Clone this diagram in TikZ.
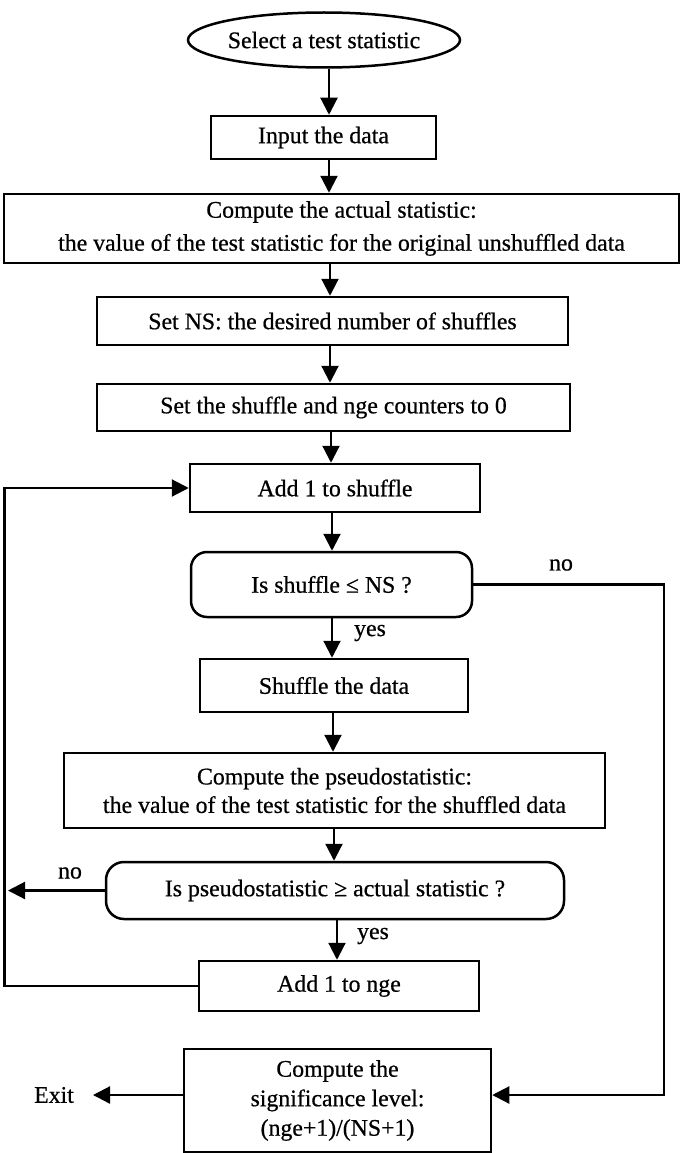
\documentclass[tikz,border=0pt]{standalone}
\usepackage{fontspec}
\setmainfont{Liberation Serif}[FakeBold=0.6]
\usetikzlibrary{arrows.meta,shapes.geometric}
\begin{document}
\begin{tikzpicture}[x=1pt,y=-1pt,
  every node/.style={font=\fontsize{23.8}{29.5}\selectfont},
  box/.style={draw,line width=2.5pt,rectangle,inner sep=0pt,align=center},
  dec/.style={box,rounded corners=16pt},
  arr/.style={line width=2.2pt,-{Triangle[length=17pt,width=17pt]}},
  lbl/.style={inner sep=0pt}]
\useasboundingbox (0,0) rectangle (681,1153);
\node[draw,line width=2.5pt,ellipse,minimum width=266pt,minimum height=55pt,inner sep=0pt] (sel) at (324,40) {Select a test statistic};
\node[box,minimum width=225pt,minimum height=43pt] (inp) at (323.5,137.5) {Input the data};
\node[box,minimum width=675pt,minimum height=69pt,font=\fontsize{23.8}{33}\selectfont] (act) at (341.5,228.5) {Compute the actual statistic:\\the value of the test statistic for the original unshuffled data};
\node[box,minimum width=471pt,minimum height=48pt] (ns) at (332.5,321) {Set NS: the desired number of shuffles};
\node[box,minimum width=473pt,minimum height=47pt] (cnt) at (333.5,407.5) {Set the shuffle and nge counters to 0};
\node[box,minimum width=290pt,minimum height=48pt] (ash) at (335,488) {Add 1 to shuffle};
\node[dec,minimum width=281pt,minimum height=65pt] (d1) at (331.5,584.5) {Is shuffle ≤ NS ?};
\node[box,minimum width=268pt,minimum height=53pt] (shd) at (334,685.5) {Shuffle the data};
\node[box,minimum width=541pt,minimum height=75pt,font=\fontsize{23.8}{28.5}\selectfont] (ps) at (334.5,790.5) {Compute the pseudostatistic:\\the value of the test statistic for the shuffled data};
\node[dec,minimum width=458pt,minimum height=57pt,rounded corners=18pt] (d2) at (335,890.5) {Is pseudostatistic ≥ actual statistic ?};
\node[box,minimum width=280pt,minimum height=50pt] (nge) at (339,986) {Add 1 to nge};
\node[box,minimum width=307pt,minimum height=103pt] (sig) at (337.5,1100.5) {Compute the\\significance level:\\(nge+1)/(NS+1)};
\node[lbl] (exit) at (54,1095) {Exit};
\node[lbl] (no1) at (561,565) {no};
\node[lbl] (yes1) at (370,633) {yes};
\node[lbl] (no2) at (70,873) {no};
\node[lbl] (yes2) at (373,936) {yes};
\coordinate (lx) at (4.5,0);
\coordinate (rx) at (664,0);
\coordinate (ltip) at (8,0);
\coordinate (exitpt) at (93,1095);
\draw[arr] (sel.south -| 329,0) -- (329,0 |- inp.north);
\draw[arr] (329,0 |- inp.south) -- (329,0 |- act.north);
\draw[arr] (330,0 |- act.south) -- (330,0 |- ns.north);
\draw[arr] (330,0 |- ns.south) -- (330,0 |- cnt.north);
\draw[arr] (331,0 |- cnt.south) -- (331,0 |- ash.north);
\draw[arr] (332,0 |- ash.south) -- (332,0 |- d1.north);
\draw[arr] (332,0 |- d1.south) -- (332,0 |- shd.north);
\draw[arr] (333,0 |- shd.south) -- (333,0 |- ps.north);
\draw[arr] (334,0 |- ps.south) -- (334,0 |- d2.north);
\draw[arr] (337,0 |- d2.south) -- (337,0 |- nge.north);
\draw[arr] (d2.west) -- (d2.west -| ltip);
\draw[arr] (nge.west) -- (nge.west -| lx) |- (ash.west);
\draw[arr] (d1.east) -- (d1.east -| rx) -- (rx |- exitpt) -- (exitpt -| sig.east);
\draw[arr] (exitpt -| sig.west) -- (exitpt);
\end{tikzpicture}
\end{document}
